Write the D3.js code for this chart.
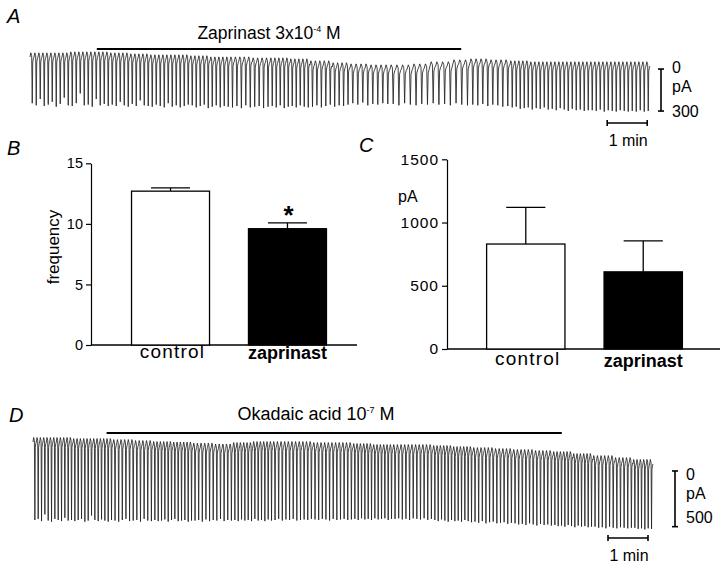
<!DOCTYPE html>
<html><head><meta charset="utf-8">
<script src="https://cdn.jsdelivr.net/npm/d3@7"></script>
<style>body{margin:0;background:#fff} svg{display:block} text{font-family:"Liberation Sans",Arial,sans-serif;fill:#000}</style>
</head><body><svg id="c" width="726" height="566"></svg>
<script>
// ---------------- data ----------------
const traceMinutes = 15.5;
// Panel A: spikes per minute, baseline per half minute (pA), trough per spike (pA)
const countsA = [10,10,10,10,10,9,10,9,8,7,7,8,10,10,10,5];
const baselineA = [0,0,7,7,0,-7,-14,-14,-21,-29,-29,-36,-36,-43,-57,-71,
                   -79,-86,-86,-79,-64,-50,-43,-50,-57,-64,-64,-64,-64,-64,-64];
const troughA = [
 -330,-345,-300,-350,-340,-320,-355,-335,-290,-345,
 -350,-330,-260,-345,-340,-355,-300,-345,-335,-350,
 -340,-350,-320,-345,-355,-335,-350,-310,-345,-350,
 -355,-340,-350,-360,-330,-355,-345,-360,-350,-340,
 -345,-360,-350,-340,-365,-355,-345,-360,-350,-355,
 -360,-350,-365,-345,-360,-355,-350,-365,-355,
 -350,-360,-345,-365,-355,-350,-360,-345,-355,-360,
 -355,-345,-360,-350,-340,-355,-345,-350,-340,
 -330,-340,-325,-345,-335,-340,-330,-335,
 -335,-345,-330,-340,-345,-335,-340,
 -330,-340,-335,-345,-330,-340,-345,
 -340,-345,-335,-350,-340,-345,-355,-350,
 -360,-355,-370,-365,-360,-375,-365,-370,-360,-375,
 -370,-380,-365,-375,-385,-370,-380,-375,-385,-380,
 -380,-385,-375,-390,-380,-385,-390,-380,-385,-390,
 -385,-390,-380,-390,-385];
const drugA = [1.67, 10.78];
const scaleBarA = {top: -86, span: 300, time: 14.43};

// Panel D
const countsD = [12,12,11,12,11,12,11,11,12,11,12,11,11,12,11,6];
const baselineD = [0,0,-9,-9,-18,-27,-36,-40,-50,-58,-45,-36,-36,-36,-45,-45,
                   -54,-63,-63,-63,-72,-81,-90,-99,-108,-117,-126,-144,-162,-180,-197];
const troughD = [
 -700,-690,-710,-650,-705,-715,-690,-700,-710,-680,-705,-700,
 -710,-700,-690,-715,-705,-660,-700,-710,-695,-705,-715,-700,
 -705,-715,-700,-690,-710,-705,-700,-715,-690,-705,-710,
 -700,-710,-705,-695,-715,-700,-690,-710,-705,-700,-715,-705,
 -705,-700,-715,-695,-710,-700,-705,-690,-710,-700,-705,
 -700,-710,-695,-705,-700,-710,-690,-705,-700,-710,-695,-705,
 -700,-690,-705,-695,-700,-690,-705,-700,-695,-700,-690,
 -695,-700,-690,-695,-705,-690,-700,-695,-690,-700,-695,
 -690,-700,-685,-695,-690,-700,-685,-695,-690,-685,-700,-690,
 -690,-685,-695,-690,-700,-685,-690,-695,-685,-700,-690,
 -700,-710,-695,-705,-715,-700,-710,-705,-715,-700,-710,-720,
 -715,-725,-710,-730,-720,-715,-730,-725,-720,-735,-725,
 -730,-740,-735,-745,-730,-740,-750,-735,-745,-740,-750,
 -745,-755,-750,-760,-745,-755,-765,-750,-760,-755,-765,-760,
 -760,-770,-765,-775,-760,-770,-775,-765,-770,-775,-770,
 -770,-780,-775,-785,-775,-780];
const drugD = [1.84, 13.22];
const scaleBarD = {top: -260, span: 500, time: 14.375};

// Panels B and C
const categories = ["control", "zaprinast"];
const freqMean = [12.7, 9.6];
const freqSem = [0.27, 0.48];
const ampMean = [830, 610];
const ampSem = [290, 245];
const freqTicks = [0, 5, 10, 15];
const ampTicks = [0, 500, 1000, 1500];

// ---------------- drawing ----------------
const svg = d3.select("#c");
const FONT = '"Liberation Sans",Arial,sans-serif';

function panelLetter(t, x, y) {
  svg.append("text").attr("x", x).attr("y", y).attr("font-size", 20)
    .attr("font-style", "italic").text(t);
}

function buildSpikes(counts, baseline, trough, hump) {
  const pts = [];
  let idx = 0;
  counts.forEach((n, i) => {
    const len = Math.min(1, traceMinutes - i);
    const p = len / n;
    for (let k = 0; k < n; k++) {
      const t0 = i + k * p;
      const b = baseline[Math.min(baseline.length - 1, Math.floor(t0 * 2))];
      const v = trough[idx++];
      pts.push([t0, b], [t0 + 0.2 * p, b + hump], [t0 + 0.42 * p, b + hump * 0.3],
               [t0 + 0.56 * p, v], [t0 + 0.68 * p, b - hump * 1.2], [t0 + 0.86 * p, b - hump * 0.3]);
    }
  });
  pts.push([traceMinutes, baseline[baseline.length - 1]]);
  return pts;
}

function drawTrace(cfg) {
  const x = d3.scaleLinear().domain([0, traceMinutes]).range(cfg.xr);
  const y = d3.scaleLinear().domain([0, -cfg.pxDomain]).range([cfg.y0, cfg.y0 + cfg.pxDomain * cfg.pxPerPA]);
  const pts = buildSpikes(cfg.counts, cfg.baseline, cfg.trough, cfg.hump);
  svg.append("path").attr("d", d3.line().x(d => x(d[0])).y(d => y(d[1]))(pts))
    .attr("fill", "none").attr("stroke", "#222").attr("stroke-width", 0.85);
  // drug bar
  svg.append("line").attr("x1", x(cfg.drug[0])).attr("x2", x(cfg.drug[1]))
    .attr("y1", cfg.drugY).attr("y2", cfg.drugY).attr("stroke", "#000").attr("stroke-width", 2.2);
  // title
  const t = svg.append("text").attr("x", cfg.titleX).attr("y", cfg.titleY)
    .attr("font-size", cfg.titleSize).attr("text-anchor", "middle");
  t.append("tspan").text(cfg.title[0]);
  t.append("tspan").attr("font-size", 9).attr("dy", -7).text(cfg.title[1]);
  t.append("tspan").attr("dy", 7).text(cfg.title[2]);
  // vertical scale bar
  const sb = cfg.sb;
  const y1 = y(sb.top), y2 = y(sb.top - sb.span);
  const g = svg.append("g").attr("stroke", "#000").attr("stroke-width", 1.6);
  g.append("line").attr("x1", cfg.sbX).attr("x2", cfg.sbX).attr("y1", y1).attr("y2", y2);
  g.append("line").attr("x1", cfg.sbX - 3).attr("x2", cfg.sbX + 3).attr("y1", y1).attr("y2", y1);
  g.append("line").attr("x1", cfg.sbX - 3).attr("x2", cfg.sbX + 3).attr("y1", y2).attr("y2", y2);
  cfg.sbLabels.forEach((s, i) => {
    svg.append("text").attr("x", cfg.sbX + 11).attr("y", cfg.sbLabelY[i]).attr("font-size", 16).text(s);
  });
  // time bar
  const tx1 = x(sb.time), tx2 = x(sb.time + 1);
  g.append("line").attr("x1", tx1).attr("x2", tx2).attr("y1", cfg.tbY).attr("y2", cfg.tbY);
  g.append("line").attr("x1", tx1).attr("x2", tx1).attr("y1", cfg.tbY - 3).attr("y2", cfg.tbY + 3);
  g.append("line").attr("x1", tx2).attr("x2", tx2).attr("y1", cfg.tbY - 3).attr("y2", cfg.tbY + 3);
  svg.append("text").attr("x", (tx1 + tx2) / 2 + 1).attr("y", cfg.tbY + 23)
    .attr("text-anchor", "middle").attr("font-size", 16).text("1 min");
}

panelLetter("A", 7, 23);
drawTrace({
  xr: [30, 650], y0: 57, pxPerPA: 0.14, pxDomain: 400, hump: 30,
  counts: countsA, baseline: baselineA, trough: troughA,
  drug: drugA, drugY: 49, title: ["Zaprinast 3x10", "-4", " M"], titleX: 269, titleY: 39, titleSize: 17.5,
  sb: scaleBarA, sbX: 661, sbLabels: ["0", "pA", "300"], sbLabelY: [73, 92, 117], tbY: 123
});

panelLetter("D", 9, 422);
drawTrace({
  xr: [33, 653], y0: 442, pxPerPA: 0.1114, pxDomain: 800, hump: 40,
  counts: countsD, baseline: baselineD, trough: troughD,
  drug: drugD, drugY: 433, title: ["Okadaic acid 10", "-7", " M"], titleX: 316, titleY: 420, titleSize: 18,
  sb: scaleBarD, sbX: 675, sbLabels: ["0", "pA", "500"], sbLabelY: [480, 499, 523], tbY: 538
});

function barPanel(cfg) {
  const y = d3.scaleLinear().domain(cfg.domain).range(cfg.yr);
  const x = d3.scaleBand().domain(categories).range(cfg.br).paddingInner(0.333).paddingOuter(0.167);
  const g = svg.append("g");
  // y axis
  const ax = g.append("g").attr("transform", `translate(${cfg.axisX},0)`)
    .call(d3.axisLeft(y).tickValues(cfg.ticks).tickFormat(d3.format("d"))
      .tickSize(5).tickPadding(3).tickSizeOuter(0));
  ax.select(".domain").attr("stroke-width", 1.2);
  ax.selectAll(".tick line").attr("stroke-width", 1.2);
  ax.selectAll("text").attr("font-size", cfg.tickFont).attr("font-family", FONT)
    .attr("letter-spacing", cfg.tickSpacing);
  // x baseline
  g.append("line").attr("x1", cfg.axisX).attr("x2", cfg.xEnd).attr("y1", y(0)).attr("y2", y(0))
    .attr("stroke", "#000").attr("stroke-width", 1.4);
  // error bars
  categories.forEach((c, i) => {
    const cx = x(c) + x.bandwidth() / 2, top = y(cfg.mean[i] + cfg.sem[i]);
    g.append("line").attr("x1", cx).attr("x2", cx).attr("y1", y(cfg.mean[i])).attr("y2", top)
      .attr("stroke", "#000").attr("stroke-width", 1.3);
    g.append("line").attr("x1", cx - x.bandwidth() / 4).attr("x2", cx + x.bandwidth() / 4)
      .attr("y1", top).attr("y2", top).attr("stroke", "#000").attr("stroke-width", 1.3);
  });
  // bars
  g.selectAll("rect.bar").data(categories).enter().append("rect")
    .attr("x", d => x(d)).attr("width", x.bandwidth())
    .attr("y", (d, i) => y(cfg.mean[i])).attr("height", (d, i) => y(0) - y(cfg.mean[i]))
    .attr("fill", (d, i) => i === 0 ? "#fff" : "#000").attr("stroke", "#000").attr("stroke-width", 1.3);
  // category labels
  categories.forEach((c, i) => {
    g.append("text").attr("x", x(c) + x.bandwidth() / 2 + (i === 0 ? 2 : 0)).attr("y", cfg.catY[i])
      .attr("text-anchor", "middle").attr("font-size", i === 0 ? 19 : 18)
      .attr("letter-spacing", i === 0 ? 1.2 : 0)
      .attr("font-weight", i === 0 ? "normal" : "bold").text(c);
  });
  return {x, y};
}

panelLetter("B", 7, 155);
const pB = barPanel({domain: [0, 15], yr: [345, 163.3], br: [112, 346], axisX: 91, xEnd: 357,
  ticks: freqTicks, mean: freqMean, sem: freqSem, catY: [358, 359], tickFont: 14.5, tickSpacing: 0});
svg.append("text").attr("transform", "translate(59,247) rotate(-90)").attr("text-anchor", "middle")
  .attr("font-size", 17).text("frequency");
svg.append("text").attr("x", pB.x("zaprinast") + pB.x.bandwidth() / 2 + 1)
  .attr("y", pB.y(freqMean[1] + freqSem[1]) + 1).attr("text-anchor", "middle")
  .attr("font-size", 26).attr("font-weight", "bold").text("*");

panelLetter("C", 359, 152);
barPanel({domain: [0, 1500], yr: [349, 159.3], br: [467, 702], axisX: 447, xEnd: 720,
  ticks: ampTicks, mean: ampMean, sem: ampSem, catY: [365, 367], tickFont: 15.5, tickSpacing: 1});
svg.append("text").attr("x", 398).attr("y", 202).attr("font-size", 16).text("pA");
</script></body></html>
